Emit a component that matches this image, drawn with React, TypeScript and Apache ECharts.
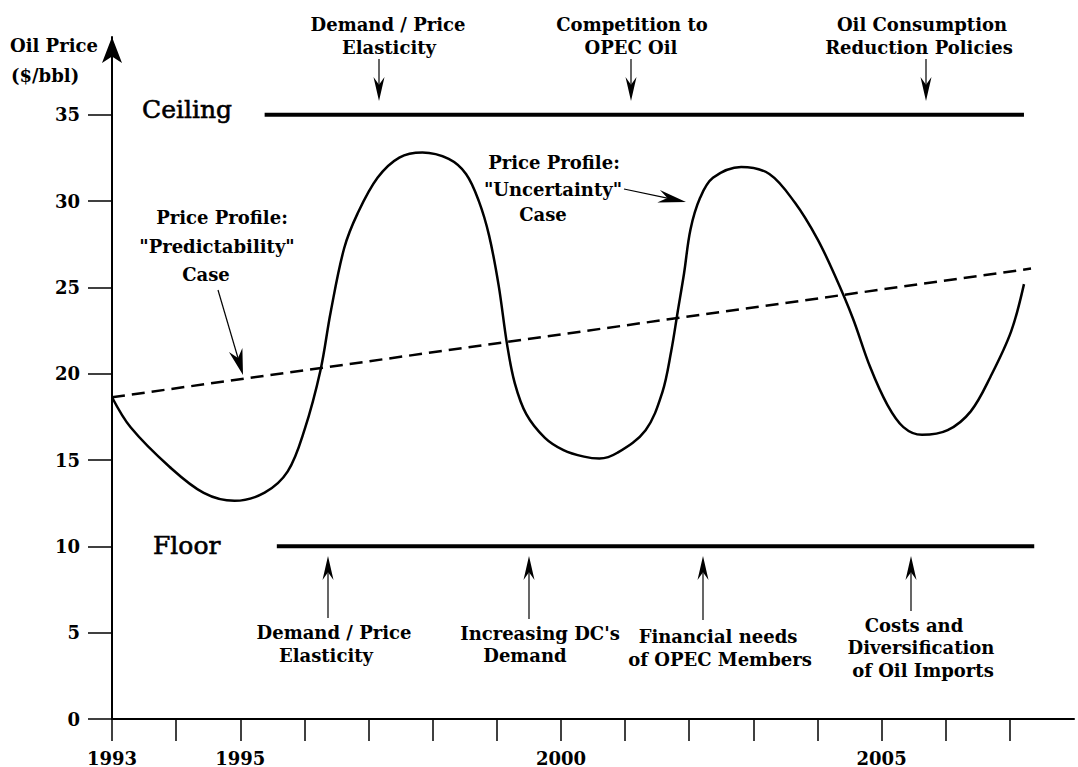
import React, { useEffect, useRef } from "react";
import * as echarts from "echarts";

// ---- Data ----
const yearTicks = [1993, 1994, 1995, 1996, 1997, 1998, 1999, 2000, 2001, 2002, 2003, 2004, 2005, 2006, 2007];
const yearLabels = [1993, 1995, 2000, 2005];
const priceTicks = [0, 5, 10, 15, 20, 25, 30, 35];

// "Uncertainty" price profile (solid curve)
const uncertaintyYears = [
  1993.0, 1993.29, 1993.9, 1994.43, 1994.91, 1995.38, 1995.74, 1996.0, 1996.25, 1996.41,
  1996.62, 1996.83, 1997.14, 1997.48, 1997.84, 1998.25, 1998.52, 1998.72, 1998.88, 1999.03,
  1999.16, 1999.28, 1999.46, 1999.75, 2000.04, 2000.36, 2000.6, 2000.88, 2001.32, 2001.58,
  2001.72, 2001.82, 2001.92, 2002.02, 2002.17, 2002.37, 2002.81, 2003.25, 2003.65, 2004.0,
  2004.27, 2004.55, 2004.82, 2005.09, 2005.34, 2005.63, 2006.03, 2006.39, 2006.7, 2007.02,
  2007.22,
];
const uncertaintyPrices = [
  18.64, 16.9, 14.6, 13.1, 12.64, 13.11, 14.34, 16.73, 20.19, 23.58,
  27.27, 29.29, 31.35, 32.52, 32.81, 32.44, 31.57, 30.0, 28.0, 25.09,
  21.7, 19.46, 17.66, 16.29, 15.58, 15.2, 15.09, 15.42, 16.73, 18.91,
  21.32, 23.58, 25.82, 28.36, 30.19, 31.35, 31.98, 31.57, 29.9, 27.8,
  25.7, 23.23, 20.4, 18.2, 16.91, 16.46, 16.73, 17.82, 19.84, 22.45,
  25.19,
];

// "Predictability" price profile (dashed line)
const predictabilityYears = [1993.0, 2007.33];
const predictabilityPrices = [18.64, 26.09];

// Ceiling and floor
const ceilingYears = [1995.38, 2007.22];
const ceilingPrice = 35;
const floorYears = [1995.57, 2007.38];
const floorPrice = 10;

const FONT = '"DejaVu Serif", "Liberation Serif", serif';
const ANN = 18;

function zip(xs: number[], ys: number[]) {
  return xs.map((x, i) => [x, ys[i]]);
}

function txt(text: string, x: number, y: number, opts: any = {}) {
  return {
    type: "text",
    silent: true,
    style: {
      text,
      x,
      y,
      fill: "#000",
      fontFamily: FONT,
      fontWeight: "bold",
      fontSize: ANN,
      align: "center",
      textAlign: "center",
      verticalAlign: "middle",
      textVerticalAlign: "middle",
      ...opts,
    },
  };
}

function arrow(x1: number, y1: number, x2: number, y2: number, len: number, width: number, lw = 1.2) {
  const dx = x2 - x1;
  const dy = y2 - y1;
  const d = Math.hypot(dx, dy);
  const ux = dx / d;
  const uy = dy / d;
  const nx = -uy;
  const ny = ux;
  const bx = x2 - ux * len;
  const by = y2 - uy * len;
  const mx = x2 - ux * len * 0.68;
  const my = y2 - uy * len * 0.68;
  return [
    { type: "line", silent: true, shape: { x1, y1, x2: mx, y2: my }, style: { stroke: "#000", lineWidth: lw } },
    {
      type: "polygon",
      silent: true,
      shape: {
        points: [
          [x2, y2],
          [bx + (nx * width) / 2, by + (ny * width) / 2],
          [mx, my],
          [bx - (nx * width) / 2, by - (ny * width) / 2],
        ],
      },
      style: { fill: "#000" },
    },
  ];
}

export default function App() {
  const ref = useRef<HTMLDivElement>(null);

  useEffect(() => {
    if (!ref.current) return;
    const chart = echarts.init(ref.current, undefined, { renderer: "svg" });

    const graphics: any[] = [
      txt("Oil Price", 10, 45, { align: "left", textAlign: "left" }),
      txt("($/bbl)", 11, 75, { align: "left", textAlign: "left" }),
      txt("Ceiling", 142, 109, {
        align: "left", textAlign: "left", fontWeight: "normal", fontSize: 25, stroke: "#000", lineWidth: 0.6,
      }),
      txt("Floor", 153, 545, {
        align: "left", textAlign: "left", fontWeight: "normal", fontSize: 25, stroke: "#000", lineWidth: 0.6,
      }),
      // top annotations
      txt("Demand / Price", 388, 24),
      txt("Elasticity", 389, 47),
      txt("Competition to", 632, 24),
      txt("OPEC Oil", 631, 47),
      txt("Oil Consumption", 922, 24),
      txt("Reduction Policies", 919, 47),
      ...arrow(379, 59, 379, 101, 24, 11),
      ...arrow(631, 59, 631, 101, 24, 11),
      ...arrow(926, 59, 926, 101, 24, 11),
      // bottom annotations
      txt("Demand / Price", 334, 632),
      txt("Elasticity", 326, 655),
      txt("Increasing DC's", 540, 633),
      txt("Demand", 525, 655),
      txt("Financial needs", 718, 636),
      txt("of OPEC Members", 720, 659),
      txt("Costs and", 914, 625),
      txt("Diversification", 921, 647),
      txt("of Oil Imports", 923, 670),
      ...arrow(328, 618, 328, 556, 24, 11),
      ...arrow(529, 619, 529, 556, 24, 11),
      ...arrow(703, 620, 703, 556, 24, 11),
      ...arrow(911, 611, 911, 556, 24, 11),
      // price profile labels
      txt("Price Profile:", 222, 217),
      txt('"Predictability"', 217, 246),
      txt("Case", 206, 274),
      ...arrow(218, 290, 243, 375, 26, 14),
      txt("Price Profile:", 554, 162),
      txt('"Uncertainty"', 553, 189),
      txt("Case", 543, 214),
      ...arrow(624, 189, 686, 202, 28, 13),
    ];

    const option: any = {
      animation: false,
      backgroundColor: "#fff",
      grid: { left: 112, right: 4, top: 37.1, bottom: 46.3, containLabel: false },
      xAxis: {
        type: "value",
        min: 1993,
        max: 2008,
        splitLine: { show: false },
        axisLine: { show: true, onZero: false, lineStyle: { color: "#000", width: 2 } },
        axisTick: { show: true, customValues: yearTicks, length: 22, lineStyle: { color: "#000", width: 1.5 } },
        axisLabel: {
          show: true,
          customValues: yearLabels,
          margin: 30,
          formatter: (v: number) => String(v),
          color: "#000",
          fontFamily: FONT,
          fontWeight: "bold",
          fontSize: 18,
        },
      },
      yAxis: {
        type: "value",
        min: 0,
        max: 39.5,
        splitLine: { show: false },
        axisLine: {
          show: true,
          onZero: false,
          symbol: ["none", "arrow"],
          symbolSize: [15, 26],
          lineStyle: { color: "#000", width: 2 },
        },
        axisTick: { show: true, customValues: priceTicks, length: 24, lineStyle: { color: "#000", width: 1.5 } },
        axisLabel: {
          show: true,
          customValues: priceTicks,
          margin: 32,
          formatter: (v: number) => String(v),
          color: "#000",
          fontFamily: FONT,
          fontWeight: "bold",
          fontSize: 18,
        },
      },
      series: [
        {
          name: "Uncertainty",
          type: "line",
          data: zip(uncertaintyYears, uncertaintyPrices),
          smooth: 0.35,
          showSymbol: false,
          silent: true,
          lineStyle: { color: "#000", width: 2.5 },
        },
        {
          name: "Predictability",
          type: "line",
          data: zip(predictabilityYears, predictabilityPrices),
          showSymbol: false,
          silent: true,
          lineStyle: { color: "#000", width: 2.5, type: [13, 7] },
        },
        {
          name: "Ceiling",
          type: "line",
          data: ceilingYears.map((x) => [x, ceilingPrice]),
          showSymbol: false,
          silent: true,
          lineStyle: { color: "#000", width: 4 },
        },
        {
          name: "Floor",
          type: "line",
          data: floorYears.map((x) => [x, floorPrice]),
          showSymbol: false,
          silent: true,
          lineStyle: { color: "#000", width: 4 },
        },
      ],
      graphic: { elements: graphics },
    };

    chart.setOption(option);
    return () => chart.dispose();
  }, []);

  return (
    <div
      ref={ref}
      style={{ position: "fixed", left: 0, top: 0, width: 1078, height: 767, background: "#fff" }}
    />
  );
}
